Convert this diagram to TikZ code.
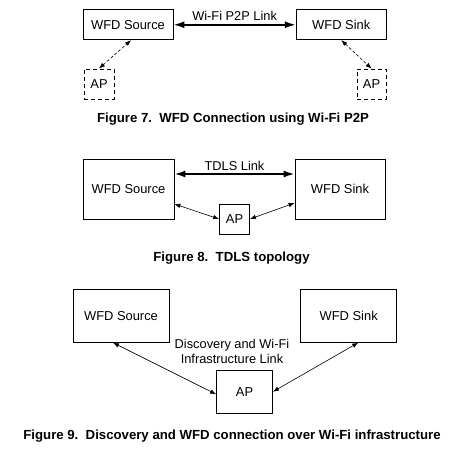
\documentclass[tikz,border=0pt]{standalone}
\usepackage{fontspec}
\setmainfont{Liberation Sans}
\usetikzlibrary{arrows.meta}

\begin{document}
\begin{tikzpicture}[x=1pt,y=-1pt,
    box/.style={draw, line width=0.8pt, inner sep=0pt, font=\fontsize{12.9}{15}\selectfont},
    dbox/.style={box, dash pattern=on 4pt off 3pt},
    link/.style={line width=1.8pt, {Latex[length=11pt,width=7pt]}-{Latex[length=11pt,width=7pt]}},
    thinlink/.style={line width=0.6pt, {Latex[length=6pt,width=4.5pt]}-{Latex[length=6pt,width=4.5pt]}},
    dlink/.style={thinlink, dash pattern=on 3pt off 2pt},
    lbl/.style={anchor=base, inner sep=0pt, font=\fontsize{12.8}{15}\selectfont},
    caption/.style={anchor=base, inner sep=0pt, font=\bfseries\fontsize{13.2}{15}\selectfont}]
    \useasboundingbox (0,0) rectangle (457,451);

    \node[box, minimum width=90pt, minimum height=30pt] (srcA) at (128,24.75) {WFD Source};
    \node[box, minimum width=90pt, minimum height=30pt] (sinkA) at (341.25,24.75) {WFD Sink};
    \node[dbox, minimum width=30pt, minimum height=30pt] (apA) at (99,84) {AP};
    \node[dbox, minimum width=29pt, minimum height=30pt] (apB) at (371.5,84) {AP};
    \draw[link] (srcA.east) -- node[lbl, midway, yshift=4.75pt] {Wi-Fi P2P Link} (sinkA.west);
    \draw[dlink] (apA.north) -- ([xshift=3pt]srcA.south);
    \draw[dlink] (sinkA.south) -- (apB.north);
    \node[caption] (capA) at (233,122.5) {Figure 7.\ \ WFD Connection using Wi-Fi P2P};

    \node[box, minimum width=91pt, minimum height=60pt] (srcB) at (128.5,189) {WFD Source};
    \node[box, minimum width=90pt, minimum height=60pt] (sinkB) at (340,189) {WFD Sink};
    \node[box, minimum width=30pt, minimum height=30pt] (apC) at (234.5,219) {AP};
    \draw[link] ([yshift=15pt]srcB.east) -- node[lbl, midway, yshift=3.3pt] {TDLS Link} ([yshift=15pt]sinkB.west);
    \draw[thinlink] ([yshift=-15pt]srcB.east) -- (apC.west);
    \draw[thinlink] (apC.east) -- ([yshift=-14pt]sinkB.west);
    \node[caption] (capB) at (231.5,261) {Figure 8.\ \ TDLS topology};

    \node[box, minimum width=96pt, minimum height=53pt] (srcC) at (121,315.8) {WFD Source};
    \node[box, minimum width=96pt, minimum height=53pt] (sinkC) at (348.7,315.8) {WFD Sink};
    \node[box, minimum width=56pt, minimum height=43pt] (apD) at (244.5,391.7) {AP};
    \node[anchor=north, inner sep=0pt, align=center, font=\fontsize{12.8}{15}\selectfont] (infra) at (232,339) {Discovery and Wi-Fi\\Infrastructure Link};
    \draw[thinlink] ([xshift=-8pt]srcC.south) -- ([yshift=-2.5pt]apD.west);
    \draw[thinlink] (apD.east) -- ([xshift=9.5pt]sinkC.south);
    \node[caption] (capC) at (232,439) {Figure 9.\ \ Discovery and WFD connection over Wi-Fi infrastructure};
\end{tikzpicture}
\end{document}
